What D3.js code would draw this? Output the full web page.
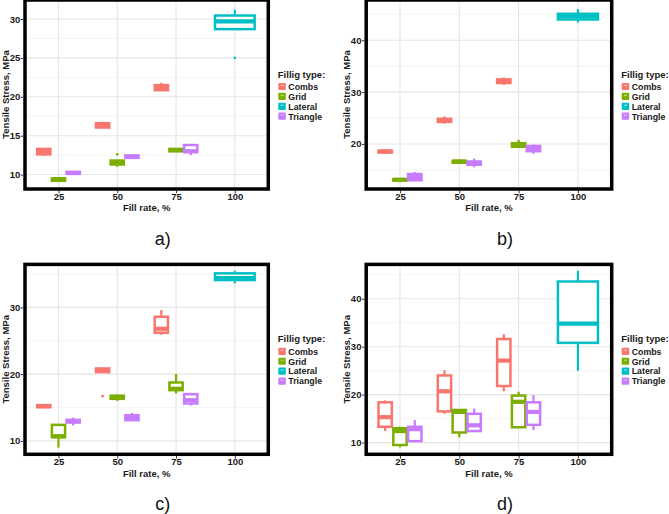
<!DOCTYPE html>
<html>
<head>
<meta charset="utf-8">
<script src="https://cdn.jsdelivr.net/npm/d3@7"></script>
<style>
body { margin: 0; background: #fff; }
svg { display: block; font-family: "Liberation Sans", Arial, sans-serif; }
</style>
</head>
<body>
<script>
const width = 669;
const height = 514;

const fillRates = ["25", "50", "75", "100"];
const fillTypes = ["Combs", "Grid", "Lateral", "Triangle"];
const typeColors = ["#F8766D", "#7CAE00", "#00BFC4", "#C77CFF"];

// [type, fill rate, min, q1, median, q3, max, outliers]
const boxesA = [
  ["Combs", "25", 12.4, 12.6, 13.0, 13.3, 13.4],
  ["Combs", "50", 16.0, 16.05, 16.35, 16.6, 16.8],
  ["Combs", "75", 20.8, 20.85, 21.2, 21.5, 21.8],
  ["Grid", "25", 9.15, 9.2, 9.4, 9.5, 9.55],
  ["Grid", "50", 11.0, 11.3, 11.55, 11.8, 11.9, [12.6]],
  ["Grid", "75", 13.0, 13.0, 13.15, 13.3, 13.35],
  ["Lateral", "100", 28.6, 28.7, 29.7, 30.45, 31.2, [25.0]],
  ["Triangle", "25", 10.05, 10.1, 10.2, 10.35, 10.4],
  ["Triangle", "50", 12.1, 12.15, 12.3, 12.45, 12.5],
  ["Triangle", "75", 12.5, 12.9, 13.0, 13.8, 13.9]
];
const boxesB = [
  ["Combs", "25", 18.2, 18.35, 18.55, 18.7, 19.0],
  ["Combs", "50", 23.9, 24.25, 24.6, 24.85, 25.3],
  ["Combs", "75", 31.4, 31.75, 32.1, 32.45, 32.8],
  ["Grid", "25", 12.75, 12.95, 13.1, 13.2, 13.3],
  ["Grid", "50", 16.3, 16.4, 16.6, 16.75, 16.85],
  ["Grid", "75", 19.3, 19.45, 19.8, 20.15, 20.8],
  ["Lateral", "100", 43.4, 44.0, 44.6, 45.1, 46.0],
  ["Triangle", "25", 12.8, 13.0, 13.6, 14.2, 14.6],
  ["Triangle", "50", 15.5, 16.0, 16.35, 16.6, 17.2],
  ["Triangle", "75", 18.1, 18.6, 19.0, 19.6, 19.9]
];
const boxesC = [
  ["Combs", "25", 14.95, 15.05, 15.2, 15.35, 15.45],
  ["Combs", "50", 20.2, 20.3, 20.6, 20.85, 20.95, [16.7]],
  ["Combs", "75", 25.9, 26.2, 26.8, 28.6, 29.6],
  ["Grid", "25", 9.0, 10.55, 10.7, 12.4, 12.5],
  ["Grid", "50", 16.0, 16.3, 16.6, 16.75, 16.85],
  ["Grid", "75", 17.1, 17.6, 17.8, 18.75, 20.0],
  ["Lateral", "100", 33.6, 34.1, 34.4, 35.1, 35.5],
  ["Triangle", "25", 12.3, 12.75, 12.95, 13.15, 13.5],
  ["Triangle", "50", 13.0, 13.1, 13.5, 13.85, 14.2],
  ["Triangle", "75", 15.3, 15.6, 16.1, 17.0, 17.2]
];
const boxesD = [
  ["Combs", "25", 12.4, 13.3, 15.3, 18.4, 18.8],
  ["Combs", "50", 16.0, 16.5, 20.7, 24.0, 25.1],
  ["Combs", "75", 20.7, 21.8, 27.1, 31.6, 32.6],
  ["Grid", "25", 9.0, 9.5, 12.4, 13.0, 13.3],
  ["Grid", "50", 11.1, 12.1, 16.4, 16.8, 16.9],
  ["Grid", "75", 13.0, 13.2, 18.5, 19.8, 20.6],
  ["Lateral", "100", 25.0, 30.8, 34.8, 43.6, 45.8],
  ["Triangle", "25", 10.2, 10.3, 12.8, 13.3, 14.7],
  ["Triangle", "50", 12.2, 12.4, 13.6, 16.0, 17.1],
  ["Triangle", "75", 12.6, 13.7, 16.4, 18.4, 19.9]
];

const limitsA = [8.37, 32.22];
const limitsB = [11.65, 47.42];
const limitsC = [8.25, 36.18];
const limitsD = [7.92, 46.8];
const ticksA = [10, 15, 20, 25, 30];
const ticksB = [20, 30, 40];
const ticksC = [10, 20, 30];
const ticksD = [10, 20, 30, 40];

const panels = [
  {label: "a)", boxes: boxesA, limits: limitsA, ticks: ticksA, x0: 25, x1: 268.3, y0: 0, y1: 189},
  {label: "b)", boxes: boxesB, limits: limitsB, ticks: ticksB, x0: 366.2, x1: 611.7, y0: 0, y1: 189},
  {label: "c)", boxes: boxesC, limits: limitsC, ticks: ticksC, x0: 25, x1: 268.3, y0: 264.4, y1: 454.3},
  {label: "d)", boxes: boxesD, limits: limitsD, ticks: ticksD, x0: 366.2, x1: 611.7, y0: 264.4, y1: 454.3}
];

const color = d3.scaleOrdinal(fillTypes, typeColors);
const frameW = 3.5;
const fontSize = 9.5;
const textColor = "#1a1a1a";

const svg = d3.select("body").append("svg")
  .attr("width", width)
  .attr("height", height);

function drawPanel(p) {
  const left = p.x0 + frameW / 2, right = p.x1 - frameW / 2;
  const top = p.y0 + frameW / 2, bottom = p.y1 - frameW / 2;

  const x = d3.scalePoint().domain(fillRates).range([left, right]).padding(0.54);
  const y = d3.scaleLinear().domain(p.limits).range([bottom, top]);
  const step = x.step();

  const g = svg.append("g");

  g.append("rect")
  .attr("x", left).attr("y", top)
  .attr("width", right - left).attr("height", bottom - top)
  .attr("fill", "#fff");

  // minor grid sits half way between the major ticks
  const tStep = p.ticks[1] - p.ticks[0];
  const minor = [];
  for (let v = p.ticks[0] - tStep / 2; v <= p.limits[1]; v += tStep) {
    if (v >= p.limits[0]) minor.push(v);
  }

  g.append("g")
  .selectAll("line")
  .data(minor)
  .join("line")
  .attr("x1", left).attr("x2", right)
  .attr("y1", d => y(d)).attr("y2", d => y(d))
  .attr("stroke", "#f0f0f0")
  .attr("stroke-width", 0.7);

  g.append("g")
  .selectAll("line")
  .data(p.ticks)
  .join("line")
  .attr("x1", left).attr("x2", right)
  .attr("y1", d => y(d)).attr("y2", d => y(d))
  .attr("stroke", "#e6e6e6")
  .attr("stroke-width", 1.1);

  g.append("g")
  .selectAll("line")
  .data(fillRates)
  .join("line")
  .attr("x1", d => x(d)).attr("x2", d => x(d))
  .attr("y1", top).attr("y2", bottom)
  .attr("stroke", "#e6e6e6")
  .attr("stroke-width", 1.1);

  const rows = p.boxes.map(([type, rate, min, q1, med, q3, max, out]) =>
    ({type, rate, min, q1, med, q3, max, out: out || []}));
  const byRate = d3.group(rows, d => d.rate);
  rows.forEach(d => {
    const grp = byRate.get(d.rate);
    const n = grp.length;
    const i = grp.indexOf(d);
    const slot = 0.75 * step / n;
    d.cx = x(d.rate) + (i - (n - 1) / 2) * slot;
    d.w = slot * 0.9;
  });

  const box = g.append("g")
  .selectAll("g")
  .data(rows)
  .join("g")
  .attr("stroke", d => color(d.type));

  box.append("line")
  .attr("x1", d => d.cx).attr("x2", d => d.cx)
  .attr("y1", d => y(d.max)).attr("y2", d => y(d.q3))
  .attr("stroke-width", 2.2);

  box.append("line")
  .attr("x1", d => d.cx).attr("x2", d => d.cx)
  .attr("y1", d => y(d.q1)).attr("y2", d => y(d.min))
  .attr("stroke-width", 2.2);

  box.append("rect")
  .attr("x", d => d.cx - d.w / 2)
  .attr("y", d => y(d.q3))
  .attr("width", d => d.w)
  .attr("height", d => y(d.q1) - y(d.q3))
  .attr("fill", "#fff")
  .attr("stroke-width", 2.5);

  box.append("line")
  .attr("x1", d => d.cx - d.w / 2).attr("x2", d => d.cx + d.w / 2)
  .attr("y1", d => y(d.med)).attr("y2", d => y(d.med))
  .attr("stroke-width", 4.2);

  box.selectAll("circle")
  .data(d => d.out.map(v => ({v, d})))
  .join("circle")
  .attr("cx", o => o.d.cx)
  .attr("cy", o => y(o.v))
  .attr("r", 1.3)
  .attr("stroke", "none")
  .attr("fill", o => color(o.d.type));

  g.append("rect")
  .attr("x", p.x0).attr("y", p.y0)
  .attr("width", p.x1 - p.x0).attr("height", p.y1 - p.y0)
  .attr("fill", "none")
  .attr("stroke", "#000")
  .attr("stroke-width", frameW);

  const styleAxis = a => {
    a.select(".domain").remove();
    a.attr("font-size", fontSize).attr("font-family", null).attr("font-weight", "bold");
    a.selectAll("text").attr("fill", textColor);
    a.selectAll("line").attr("stroke", "#333").attr("stroke-width", 1);
  };

  g.append("g")
  .attr("transform", `translate(${p.x0 - frameW / 2},0)`)
  .call(d3.axisLeft(y).tickValues(p.ticks).tickSize(2.5).tickPadding(0.5))
  .call(styleAxis);

  g.append("g")
  .attr("transform", `translate(0,${p.y1 + frameW / 2})`)
  .call(d3.axisBottom(x).tickSize(2.5).tickPadding(0))
  .call(styleAxis);

  g.append("text")
  .attr("transform", `translate(${p.x0 - 16.5},${(p.y0 + p.y1) / 2}) rotate(-90)`)
  .attr("text-anchor", "middle")
  .attr("font-size", fontSize)
  .attr("font-weight", "bold")
  .attr("fill", textColor)
  .text("Tensile Stress, MPa");

  g.append("text")
  .attr("x", (p.x0 + p.x1) / 2)
  .attr("y", p.y1 + frameW / 2 + 20.5)
  .attr("text-anchor", "middle")
  .attr("font-size", fontSize)
  .attr("font-weight", "bold")
  .attr("fill", textColor)
  .text("Fill rate, %");

  // legend, rows kept just far enough apart that labels do not collide
  const lx = p.x1 + 9.5;
  const cy = (p.y0 + p.y1) / 2;
  const rowGap = 9.9;
  const legend = g.append("g")
  .attr("font-size", 8.8)
  .attr("font-weight", "bold")
  .attr("fill", textColor);

  legend.append("text")
  .attr("x", lx)
  .attr("y", cy - 17)
  .attr("font-size", fontSize)
  .text("Fillig type:");

  const item = legend.selectAll("g.key")
  .data(fillTypes)
  .join("g")
  .attr("class", "key")
  .attr("transform", (d, i) => `translate(${lx},${cy - 8 + rowGap * i})`);

  item.append("rect")
  .attr("x", 0.5).attr("y", -3.6)
  .attr("width", 7.5).attr("height", 7.2)
  .attr("rx", 1)
  .attr("fill", d => color(d));

  item.append("rect")
  .attr("x", 2.8).attr("y", -1.6)
  .attr("width", 3).attr("height", 1)
  .attr("fill", "#fff")
  .attr("opacity", 0.6);

  item.append("text")
  .attr("x", 10.5)
  .attr("y", 3.3)
  .text(d => d);

  g.append("text")
  .attr("x", (p.x0 + p.x1) / 2 + 16)
  .attr("y", p.y1 + 56)
  .attr("text-anchor", "middle")
  .attr("font-size", 18)
  .attr("fill", "#111")
  .text(p.label);
}

panels.forEach(drawPanel);
</script>
</body>
</html>
